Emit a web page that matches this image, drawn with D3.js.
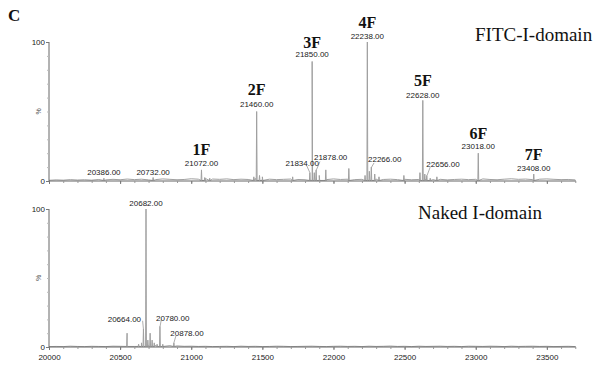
<!DOCTYPE html>
<html><head><meta charset="utf-8">
<script src="https://cdn.jsdelivr.net/npm/d3@7"></script>
<style>body{margin:0;background:#fff}svg{display:block}</style>
</head><body><svg id="c" width="598" height="366"></svg>
<script>
// ---- data ----
const xTicks = [20000, 20500, 21000, 21500, 22000, 22500, 23000, 23500];
const yTicks = [0, 100];

// FITC-I-domain: peak sticks (mass, % intensity)
const topPeakMass = [20386, 20732, 21072, 21095, 21130, 21440, 21460, 21480, 21500, 21713, 21834, 21850, 21865, 21878, 21900, 21946, 22108, 22222, 22238, 22252, 22266, 22290, 22320, 22495, 22608, 22628, 22642, 22656, 22680, 22727, 23018, 23408];
const topPeakInt  = [2, 2.5, 8, 2.5, 2, 3, 50, 4, 3, 3, 6, 86, 6, 8, 4, 8, 9, 4, 100, 7, 10, 5, 3, 4, 6, 58, 5, 4, 2, 3, 20, 5];
// baseline noise every 50 Da from 20000
const topNoise = [0.5,0.8,0.6,1.0,0.7,0.9,0.6,1.1,0.8,1.2,0.9,1.4,1.0,1.3,0.8,1.0,1.5,1.2,0.9,1.1,1.6,1.3,1.8,1.4,1.2,1.5,1.0,1.3,1.1,1.9,1.6,1.3,1.0,1.2,1.4,1.1,0.9,1.3,1.2,1.0,1.5,1.1,1.3,1.0,1.2,1.6,1.4,1.1,1.3,1.0,1.2,0.9,1.1,1.4,1.0,1.2,0.8,1.1,1.3,1.0,1.2,1.5,1.1,0.9,1.3,1.6,1.2,1.4,1.0,1.3,1.5,1.2,1.0,1.1,0.8];

// Naked I-domain
const botPeakMass = [20549, 20630, 20650, 20664, 20682, 20695, 20711, 20725, 20740, 20760, 20780, 20800, 20878];
const botPeakInt  = [10, 2, 3, 13, 100, 5, 10, 5, 3, 2, 15, 2, 3];
const botNoise = [0.3,0.4,0.3,0.6,0.4,0.3,0.5,0.4,0.3,0.6,0.5,0.7,0.4,0.6,1.0,1.2,2.0,1.0,0.8,0.5,0.6,0.4,0.5,0.3,0.4,0.5,0.3,0.6,0.4,0.5,0.3,0.4,0.6,0.5,0.3,0.4,0.5,0.6,0.4,0.3,0.5,0.6,0.4,0.5,0.3,0.6,0.4,0.5,0.7,0.4,0.5,0.3,0.6,0.4,0.5,0.6,0.4,0.5,0.3,0.6,0.5,0.4,0.6,0.5,0.3,0.6,0.4,0.5,0.6,0.4,0.5,0.3,0.4,0.5,0.3];

// peak annotations: [label, position (Da), height %]
const topLabels = [
  ["20386.00", 20386, 4], ["20732.00", 20732, 4], ["21072.00", 21072, 11],
  ["21460.00", 21460, 53], ["21834.00", 21780, 11], ["21850.00", 21850, 89],
  ["21878.00", 21980, 15], ["22238.00", 22238, 102], ["22266.00", 22360, 14],
  ["22628.00", 22628, 60], ["22656.00", 22770, 10], ["23018.00", 23018, 23],
  ["23408.00", 23408, 7]
];
const topCharges = [["1F", 21072, 19], ["2F", 21460, 62], ["3F", 21850, 96], ["4F", 22238, 110], ["5F", 22628, 68], ["6F", 23018, 30], ["7F", 23408, 15]];
const botLabels = [["20682.00", 20682, 102], ["20664.00", 20530, 18], ["20780.00", 20870, 19], ["20878.00", 20970, 8]];
const leaders = {
  top: [[21812, 11, 21834, 6], [21905, 14, 21880, 8], [22285, 13, 22268, 10], [22680, 10, 22658, 4]],
  bot: [[20658, 19, 20664, 13], [20790, 20, 20781, 15], [20892, 8, 20878, 3]]
};

// ---- drawing ----
const svg = d3.select("#c");
const x = d3.scaleLinear().domain([20000, 23705]).range([49, 576]);
const panels = [
  {y: d3.scaleLinear().domain([0, 100]).range([181, 42]), pm: topPeakMass, pi: topPeakInt, noise: topNoise, labels: topLabels, lead: leaders.top, title: "FITC-I-domain", tx: 475, ty: 41, showX: false},
  {y: d3.scaleLinear().domain([0, 100]).range([347, 209]), pm: botPeakMass, pi: botPeakInt, noise: botNoise, labels: botLabels, lead: leaders.bot, title: "Naked I-domain", tx: 418, ty: 219, showX: true}
];

svg.append("text").attr("x", 8).attr("y", 21).text("C")
  .attr("font-family", "Liberation Serif").attr("font-weight", "bold").attr("font-size", 17).attr("fill", "#111");

panels.forEach(p => {
  const g = svg.append("g");
  const pts = p.noise.map((v, i) => [20000 + i * 50, v]);
  p.pm.forEach((m, i) => { pts.push([m - 3, 0.4], [m, p.pi[i]], [m + 3, 0.4]); });
  pts.sort((a, b) => a[0] - b[0]);
  const line = d3.line().x(d => x(d[0])).y(d => p.y(d[1]));
  g.append("path").attr("d", line(pts)).attr("fill", "none").attr("stroke", "#a0a0a0").attr("stroke-width", 1);

  const xa = d3.axisBottom(x).tickValues(d3.range(20000, 23701, 100)).tickSize(2).tickFormat("");
  const gx = g.append("g").attr("transform", `translate(0,${p.y(0)})`).call(xa);
  gx.select(".domain").attr("stroke", "#666").attr("d", `M${x(20000)},0H576`);
  gx.selectAll(".tick line").attr("stroke", "#999");
  const xm = d3.axisBottom(x).tickValues(xTicks).tickSize(3).tickFormat(p.showX ? d3.format("d") : "");
  const gxm = g.append("g").attr("transform", `translate(0,${p.y(0)})`).call(xm);
  gxm.select(".domain").remove();
  gxm.selectAll(".tick line").attr("stroke", "#777");
  gxm.selectAll("text").attr("font-family", "Liberation Sans").attr("font-size", 8).attr("fill", "#222").attr("dy", "0.9em");

  const ya = d3.axisLeft(p.y).tickValues(d3.range(0, 101, 10)).tickSize(2).tickFormat("");
  const gy = g.append("g").attr("transform", `translate(${x(20000)},0)`).call(ya);
  gy.select(".domain").attr("stroke", "#666").attr("d", `M0,${p.y(100)}V${p.y(0)}`);
  gy.selectAll(".tick line").attr("stroke", "#bbb");
  const ym = d3.axisLeft(p.y).tickValues(yTicks).tickSize(3).tickPadding(1);
  const gym = g.append("g").attr("transform", `translate(${x(20000)},0)`).call(ym);
  gym.select(".domain").remove();
  gym.selectAll(".tick line").attr("stroke", "#777");
  gym.selectAll("text").attr("font-family", "Liberation Sans").attr("font-size", 8).attr("fill", "#222");
  g.append("text").attr("transform", `translate(41,${p.y(50)}) rotate(-90)`).attr("text-anchor", "middle")
    .attr("font-family", "Liberation Sans").attr("font-size", 7).attr("fill", "#555").text("%");

  p.lead.forEach(l => g.append("line").attr("x1", x(l[0])).attr("y1", p.y(l[1])).attr("x2", x(l[2])).attr("y2", p.y(l[3]))
    .attr("stroke", "#999").attr("stroke-width", 0.8));

  p.labels.forEach(l => g.append("text").attr("x", x(l[1])).attr("y", p.y(l[2])).attr("text-anchor", "middle")
    .attr("font-family", "Liberation Sans").attr("font-size", 8).attr("fill", "#222").text(l[0]));

  g.append("text").attr("x", p.tx).attr("y", p.ty).text(p.title)
    .attr("font-family", "Liberation Serif").attr("font-size", 19).attr("fill", "#111");
});

const yt = panels[0].y;
topCharges.forEach(c => svg.append("text").attr("x", x(c[1])).attr("y", yt(c[2])).attr("text-anchor", "middle")
  .attr("font-family", "Liberation Serif").attr("font-weight", "bold").attr("font-size", 16).attr("fill", "#111").text(c[0]));
</script></body></html>
